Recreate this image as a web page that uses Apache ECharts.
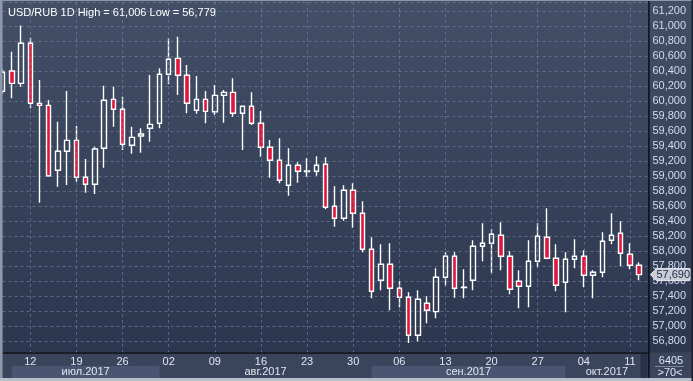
<!DOCTYPE html>
<html><head><meta charset="utf-8">
<style>html,body{margin:0;padding:0;background:#2c3650;}#c{width:693px;height:381px;}</style>
<script src="https://cdn.jsdelivr.net/npm/echarts@6/dist/echarts.min.js"></script>
</head><body><div id="c"></div>
<script>
const dates = [
 '2017-07-07','2017-07-10','2017-07-11','2017-07-12','2017-07-13','2017-07-14',
 '2017-07-17','2017-07-18','2017-07-19','2017-07-20','2017-07-21',
 '2017-07-24','2017-07-25','2017-07-26','2017-07-27','2017-07-28',
 '2017-07-31','2017-08-01','2017-08-02','2017-08-03','2017-08-04',
 '2017-08-07','2017-08-08','2017-08-09','2017-08-10','2017-08-11',
 '2017-08-14','2017-08-15','2017-08-16','2017-08-17','2017-08-18',
 '2017-08-21','2017-08-22','2017-08-23','2017-08-24','2017-08-25',
 '2017-08-28','2017-08-29','2017-08-30','2017-08-31','2017-09-01',
 '2017-09-04','2017-09-05','2017-09-06','2017-09-07','2017-09-08',
 '2017-09-11','2017-09-12','2017-09-13','2017-09-14','2017-09-15',
 '2017-09-18','2017-09-19','2017-09-20','2017-09-21','2017-09-22',
 '2017-09-25','2017-09-26','2017-09-27','2017-09-28','2017-09-29',
 '2017-10-02','2017-10-03','2017-10-04','2017-10-05','2017-10-06',
 '2017-10-09','2017-10-10','2017-10-11','2017-10-12','2017-10-13'
];
const opens  = [60131,60401,60237,60770,59970,59944,59079,59332,59478,58986,58893,59372,60024,59891,59412,59536,59638,59705,60357,60570,60344,59878,60024,59859,60077,60117,59838,59931,59705,59385,59212,58879,59146,59070,59066,59159,58600,58440,58813,58507,58027,57615,57828,57508,57388,56883,57309,57197,57655,57934,57518,57615,58067,58107,58214,57934,57601,57535,57868,58187,57908,57588,57894,57934,57681,57721,58147,58240,57961,57814];
const closes = [60384,60237,60770,59971,59944,59007,59332,59478,58986,58893,59363,60011,59891,59425,59518,59562,59691,60357,60557,60344,59971,60024,59864,60077,60117,59838,59931,59705,59385,59212,58946,59146,59066,59062,59146,58587,58440,58813,58507,58027,57468,57828,57508,57388,56883,57362,57215,57655,57934,57508,57524,58067,58107,58227,57934,57495,57535,57868,58201,57908,57548,57894,57934,57681,57721,58134,58214,57974,57814,57690];
const lows   = [60100,60038,60192,59904,58648,58994,58861,58883,58927,58781,58764,59114,59660,59349,59300,59313,59460,59638,60228,60081,59838,59833,59705,59815,59713,59793,59349,59682,59260,58981,58906,58741,58914,58994,59007,58560,58328,58408,58315,57988,57375,57482,57215,57255,56779,56803,57042,57109,57543,57383,57375,57482,57868,57708,57748,57428,57242,57255,57788,57894,57468,57189,57774,57522,57375,57655,58094,57801,57761,57615];
const highs  = [60420,60658,61006,60844,60281,60015,59726,60135,59669,59230,59393,60205,60192,60059,59660,59638,60348,60437,60836,60858,60481,60334,60135,60215,60148,60304,59940,60117,59868,59482,59505,59372,59186,59239,59265,59252,58866,58879,58906,58666,58187,58094,58107,57601,57455,57482,57402,57775,57987,57987,57761,58147,58374,58294,58387,58001,57748,58147,58374,58573,58094,57987,58161,58014,57748,58254,58507,58400,58107,57854];
const monthNames = ['июл.2017','авг.2017','сен.2017','окт.2017'];
const titleText = 'USD/RUB 1D High = 61,006 Low = 56,779';
const footTop = '6405';
const footBottom = '>70<';

const ohlc = opens.map((o,i)=>[o, closes[i], lows[i], highs[i]]);
const isWed = s => { const p = s.split('-').map(Number); return new Date(Date.UTC(p[0],p[1]-1,p[2])).getUTCDay() === 3; };
const fmt = v => Math.round(v).toLocaleString('en-US');
const FONT = 'Liberation Sans, Arial, sans-serif';

const chart = echarts.init(document.getElementById('c'), null, {renderer:'canvas'});
chart.setOption({
  animation:false,
  backgroundColor:{type:'linear',x:0,y:0,x2:0,y2:1,colorStops:[{offset:0,color:'#434e67'},{offset:1,color:'#2a344d'}]},
  title:{text:titleText,left:3,top:2,textStyle:{color:'#ffffff',fontSize:11,fontWeight:'normal',fontFamily:FONT}},
  grid:{left:2.6,right:44.6,top:2,bottom:28.5},
  xAxis:{type:'category',data:dates,boundaryGap:false,z:5,
    axisLine:{lineStyle:{color:'#0c0f16',width:1.5}},
    axisTick:{show:false},
    axisLabel:{interval:(i,v)=>isWed(v),formatter:v=>v.slice(8),color:'#dfe5ef',fontSize:11,fontFamily:FONT,margin:4},
    splitLine:{show:true,interval:(i,v)=>isWed(v),lineStyle:{color:'rgba(125,140,170,0.55)',type:[3,3],width:1}}
  },
  yAxis:{type:'value',position:'right',scale:true,min:56653,max:61320,splitNumber:23,minInterval:200,maxInterval:200,
    axisLine:{show:false},axisTick:{show:false},
    axisLabel:{showMinLabel:false,showMaxLabel:false,formatter:v=>fmt(v),color:'#cfdbf0',fontSize:11,fontFamily:FONT,margin:4},
    splitLine:{show:true,lineStyle:{color:'rgba(125,140,170,0.55)',type:[3,3],width:1}}
  },
  series:[{type:'candlestick',data:ohlc,barWidth:5,clip:true,
    itemStyle:{color:'rgba(0,0,0,0)',color0:'#e0163c',borderColor:'#ffffff',borderColor0:'#ffffff',borderWidth:1.4,borderColorDoji:'#ffffff'}
  }]
});

const xAt = i => chart.convertToPixel({xAxisIndex:0}, i);
const yAt = v => chart.convertToPixel({yAxisIndex:0}, v);
const axisX = xAt(dates.length-1);
const axisY = 381-28.5;
// month starts
const starts = [];
dates.forEach((d,i)=>{ if(i===0 || d.slice(5,7)!==dates[i-1].slice(5,7)) starts.push(i); });
if (starts[0]===0) starts[0]=1;
const g = [];
g.push({type:'rect',z:-5,shape:{x:0,y:axisY,width:693,height:381-axisY},style:{fill:'#3a445d'}});
for (let m=0;m<monthNames.length;m++){
  const x0 = xAt(starts[m]);
  const x1 = m+1<starts.length ? xAt(starts[m+1]) : axisX;
  if (m%2===0) g.push({type:'rect',z:-4,shape:{x:x0,y:366,width:x1-x0,height:12},style:{fill:'#4a5671'}});
  g.push({type:'text',z:6,style:{text:monthNames[m],x:(x0+x1)/2,y:372,align:'center',verticalAlign:'middle',fill:'#dfe5ef',font:'11px '+FONT}});
}
g.push({type:'rect',z:-3,shape:{x:axisX-8,y:axisY+1,width:7,height:378-axisY-1},style:{fill:'#283147'}});
g.push({type:'line',z:7,shape:{x1:axisX+0.5,y1:0,x2:axisX+0.5,y2:381},style:{stroke:'#0c0f16',lineWidth:1.5}});
g.push({type:'text',z:6,style:{text:footTop,x:671,y:361,align:'center',verticalAlign:'middle',fill:'#dfe5ef',font:'11px '+FONT}});
g.push({type:'line',z:6,shape:{x1:655,y1:366.5,x2:684,y2:366.5},style:{stroke:'#7c879c',lineWidth:1}});
g.push({type:'text',z:6,style:{text:footBottom,x:670,y:373,align:'center',verticalAlign:'middle',fill:'#dfe5ef',font:'11px '+FONT}});
// last price tag
const lastClose = closes[closes.length-1];
const py = yAt(lastClose);
g.push({type:'polygon',z:8,shape:{points:[[axisX+2,py],[axisX+8,py-6],[690,py-6],[690,py+6],[axisX+8,py+6]]},style:{fill:'#c9cdd6',stroke:'#e8eaef',lineWidth:1}});
g.push({type:'text',z:9,style:{text:fmt(lastClose),x:axisX+8,y:py+0.5,align:'left',verticalAlign:'middle',fill:'#1b2a48',font:'11px '+FONT}});
// frame
g.push({type:'rect',z:10,shape:{x:0,y:0,width:2.6,height:381},style:{fill:'#8e98aa'}});
g.push({type:'rect',z:10,shape:{x:0,y:378,width:693,height:3},style:{fill:'#b7bfcc'}});
g.push({type:'rect',z:10,shape:{x:0,y:0,width:693,height:1},style:{fill:'#8e98aa'}});
g.push({type:'rect',z:10,shape:{x:691.5,y:0,width:1.5,height:381},style:{fill:'#1a2030'}});
chart.setOption({graphic:g});
</script></body></html>
